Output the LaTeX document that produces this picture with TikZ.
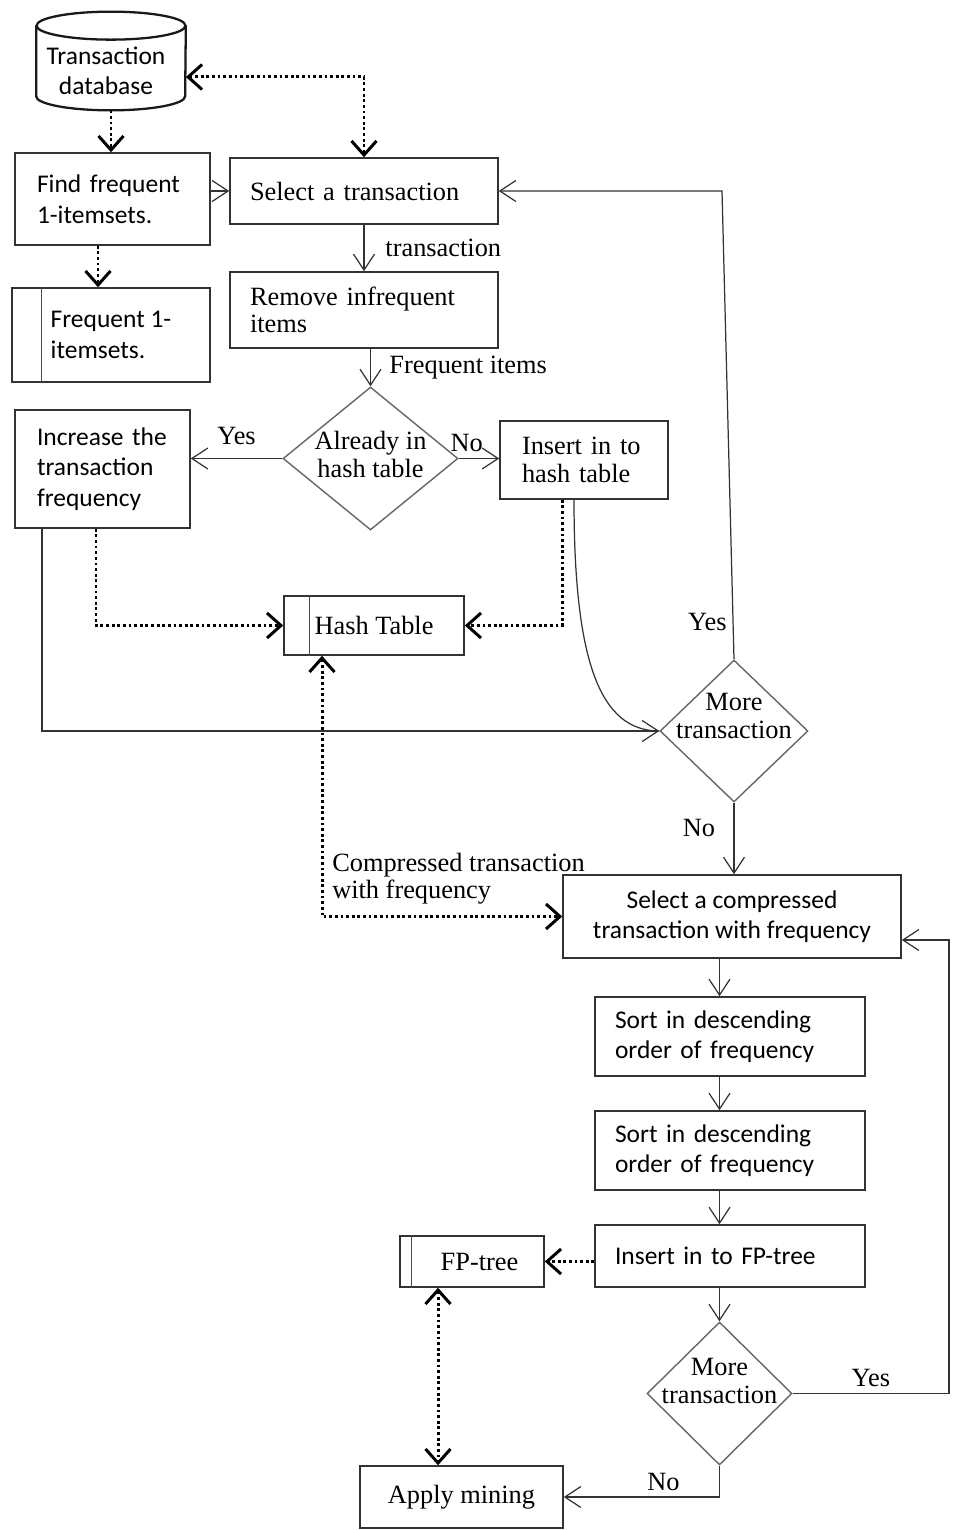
\documentclass[tikz,border=0pt]{standalone}
\usepackage{fontspec}
\setmainfont{Liberation Serif}
\newfontfamily\calib{Carlito}
\usetikzlibrary{arrows.meta,shapes.geometric}

\tikzset{
  >={Straight Barb[length=3.2mm,width=4.2mm]},
  flow/.style={draw=black!80, line width=0.7pt, ->},
  dots/.style={draw=black, line width=1.7pt, dash pattern=on 1.6pt off 1.6pt,
               >={Straight Barb[length=2.8mm,width=5mm]}},
  box/.style={draw=black!80, line width=0.9pt, rectangle, inner sep=0pt},
  decision/.style={draw=black!60, line width=0.8pt, diamond, inner sep=0pt},
  strip/.style={draw=black!70, line width=0.7pt},
  dbline/.style={draw=black!90, line width=1.3pt},
  sans/.style={font=\calib\fontsize{14.5}{17.4}\selectfont},
  serif/.style={font=\fontsize{15}{15.5}\selectfont},
}

\begin{document}
\begin{tikzpicture}[x=0.02cm, y=-0.02cm]
\useasboundingbox (0,0) rectangle (953,1530);

\node[minimum width=2.98cm, minimum height=1.96cm, inner sep=0pt,
      label={[sans, align=center, yshift=-0.2cm, xshift=-0.1cm]center:Transaction\\database}] (db) at (111,61) {};
\draw[dbline] ([yshift=-0.28cm]db.north) ellipse [x radius=1.49cm, y radius=0.28cm];
\draw[dbline] ([yshift=-0.28cm]db.north west) -- ([yshift=0.28cm]db.south west)
   arc[start angle=180, end angle=360, x radius=1.49cm, y radius=0.28cm] -- ([yshift=-0.28cm]db.north east);
\node[box, sans, minimum width=3.9cm, minimum height=1.84cm, text width=3.02cm, align=left] (find) at (112.5,199) {Find frequent\\1-itemsets.};
\node[box, serif, minimum width=5.36cm, minimum height=1.32cm, text width=4.56cm, align=left] (sel) at (364,191) {Select a transaction};
\node[box, sans, minimum width=3.96cm, minimum height=1.88cm, align=left] (freq1) at (111,335) {Frequent 1-\\itemsets.};
\node[box, serif, minimum width=5.36cm, minimum height=1.52cm, text width=4.56cm, align=left] (rem) at (364,310) {Remove infrequent\\items};
\node[decision, minimum width=3.5cm, minimum height=2.86cm,
      label={[serif, align=center, yshift=0.08cm]center:Already in\\hash table}] (dia1) at (370.5,458.5) {};
\node[box, sans, minimum width=3.5cm, minimum height=2.36cm, text width=2.62cm, align=left] (inc) at (102.5,469) {Increase the\\transaction\\frequency};
\node[box, serif, minimum width=3.36cm, minimum height=1.56cm, text width=2.48cm, align=left] (ins) at (584,460) {Insert in to\\hash table};
\node[box, serif, minimum width=3.6cm, minimum height=1.18cm] (hash) at (374,625.5) {Hash Table};
\node[decision, minimum width=2.96cm, minimum height=2.84cm,
      label={[serif, align=center, yshift=0.3cm]center:More\\transaction}] (dia2) at (734,731) {};
\node[box, sans, minimum width=6.76cm, minimum height=1.66cm, align=center] (selc) at (732,916.5) {Select a compressed\\transaction with frequency};
\node[box, sans, minimum width=5.4cm, minimum height=1.58cm, text width=4.6cm, align=left] (sort1) at (730,1036.5) {Sort in descending\\order of frequency};
\node[box, sans, minimum width=5.4cm, minimum height=1.58cm, text width=4.6cm, align=left] (sort2) at (730,1150.5) {Sort in descending\\order of frequency};
\node[box, sans, minimum width=5.4cm, minimum height=1.24cm, text width=4.6cm, align=left] (insfp) at (730,1256) {Insert in to FP-tree};
\node[box, serif, minimum width=2.88cm, minimum height=1.02cm] (fp) at (472,1261.5) {\hspace*{0.3cm}FP-tree};
\node[decision, minimum width=2.9cm, minimum height=2.86cm,
      label={[serif, align=center, yshift=0.25cm]center:More\\transaction}] (dia3) at (719.5,1393.5) {};
\node[box, serif, minimum width=4.06cm, minimum height=1.24cm] (mine) at (461.5,1497) {Apply mining};

\draw[strip] ([xshift=0.6cm]freq1.north west) -- ([xshift=0.6cm]freq1.south west);
\draw[strip] ([xshift=0.52cm]hash.north west) -- ([xshift=0.52cm]hash.south west);
\draw[strip] ([xshift=0.24cm]fp.north west) -- ([xshift=0.24cm]fp.south west);

\coordinate (ytop) at (722,191);
\coordinate (loopr) at (949,940);

\draw[dots, ->] (db.south) -- (db.south |- find.north);
\draw[dots, <->] ([yshift=-0.32cm]db.east) -| (sel.north);
\draw[flow] (find.east |- sel.west) -- (sel.west);
\draw[dots, ->] ([xshift=-0.29cm]find.south) -- ([xshift=-0.29cm]find.south |- freq1.north);
\draw[flow] (sel.south) -- node[right=0.3cm, serif]{transaction} (rem.north);
\draw[flow] (dia1.north |- rem.south) -- node[right=0.25cm, serif]{Frequent items} (dia1.north);
\draw[flow] (dia1.west) -- node[above=0.15cm, serif]{Yes} (dia1.west -| inc.east);
\draw[flow] (dia1.east) -- node[above, pos=0.2, serif]{No} (dia1.east -| ins.west);
\draw[dots, ->] ([xshift=-0.13cm]inc.south) |- (hash.west);
\draw[dots, ->] ([xshift=-0.44cm]ins.south) |- (hash.east);
\draw[flow] ([xshift=-1.21cm]inc.south) |- (dia2.west);
\draw[draw=black!80, line width=0.7pt] ([xshift=-0.2cm]ins.south) .. controls +(0,160) and +(-60,0) .. (dia2.west);
\draw[flow] (dia2.north) -- node[pos=0.08, left, serif]{Yes} (ytop) -- (sel.east |- ytop);
\draw[flow] (dia2.south) -- node[left=0.25cm, pos=0.36, serif]{No} (dia2.south |- selc.north);
\draw[dots, <->] ([xshift=-1.04cm]hash.south) |- node[pos=0.5, anchor=south west, serif, align=left, inner xsep=5pt, inner ysep=6pt]{Compressed transaction\\with frequency} (selc.west);
\draw[flow] (dia3.north |- selc.south) -- (dia3.north |- sort1.north);
\draw[flow] (dia3.north |- sort1.south) -- (dia3.north |- sort2.north);
\draw[flow] (dia3.north |- sort2.south) -- (dia3.north |- insfp.north);
\draw[flow] (dia3.north |- insfp.south) -- (dia3.north);
\draw[dots, ->] (insfp.west |- fp.east) -- (fp.east);
\draw[flow] (dia3.east) -| node[pos=0.25, above, serif]{Yes} (loopr) -- (selc.east |- loopr);
\draw[flow] (dia3.south) |- node[pos=0.68, above, serif]{No} (mine.east);
\draw[dots, <->] ([xshift=-0.68cm]fp.south) -- ([xshift=-0.68cm]fp.south |- mine.north);
\end{tikzpicture}
\end{document}
